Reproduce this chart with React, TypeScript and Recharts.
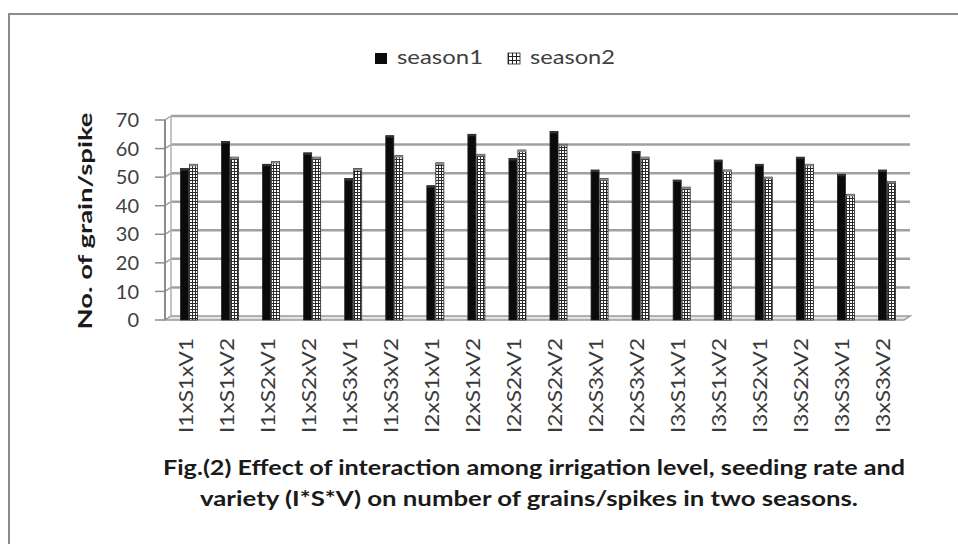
import { Bar, BarChart, CartesianGrid, XAxis, YAxis } from "recharts";

const categories = [
  "I1xS1xV1", "I1xS1xV2", "I1xS2xV1", "I1xS2xV2", "I1xS3xV1", "I1xS3xV2",
  "I2xS1xV1", "I2xS1xV2", "I2xS2xV1", "I2xS2xV2", "I2xS3xV1", "I2xS3xV2",
  "I3xS1xV1", "I3xS1xV2", "I3xS2xV1", "I3xS2xV2", "I3xS3xV1", "I3xS3xV2",
];
const season1 = [53, 62.5, 54.5, 58.5, 49.5, 64.5, 47, 65, 56.5, 66, 52.5, 59, 49, 56, 54.5, 57, 51, 52.5];
const season2 = [54.5, 57, 55.5, 57, 53, 57.5, 55, 58, 59.5, 61.5, 49.5, 57, 46.5, 52.5, 50, 54.5, 44, 48.5];
const yTicks = [0, 10, 20, 30, 40, 50, 60, 70];
const legendLabels = ["season1", "season2"];
const yLabel = "No. of  grain/spike";
const captionLines = [
  "Fig.(2) Effect of interaction among irrigation  level, seeding rate and",
  "variety (I*S*V) on number of grains/spikes in two seasons.",
];

const data = categories.map((name, i) => ({ name, season1: season1[i], season2: season2[i] }));

const FONT = "Lato, 'Open Sans', sans-serif";
const DEPTH_X = 6;
const DEPTH_Y = 4;

// back-wall gridline with the little 3D step from the axis
const GridLine = (props: any) => {
  const { x1, x2, y1, y, height, index } = props;
  const bottom = y + height;
  const isFloor = Math.abs(y1 - bottom) < 0.5;
  const step = height / 7;
  return (
    <g key={`gl-${index}`}>
      {isFloor ? (
        <polygon
          points={`${x1},${y1} ${x2},${y1} ${x2 + DEPTH_X},${y1 - DEPTH_Y} ${x1 + DEPTH_X},${y1 - DEPTH_Y}`}
          fill="#e4e4e4"
          stroke="#9a9a9a"
          strokeWidth={1.5}
        />
      ) : (
        <>
          <line x1={x1 + DEPTH_X} x2={x2 + DEPTH_X} y1={y1 - DEPTH_Y} y2={y1 - DEPTH_Y} stroke="#a0a0a0" strokeWidth={2.5} />
          <line x1={x1} x2={x1 + DEPTH_X} y1={y1} y2={y1 - DEPTH_Y} stroke="#a0a0a0" strokeWidth={1.5} />
          <line x1={x1 + DEPTH_X} x2={x1 + DEPTH_X} y1={y1 - DEPTH_Y} y2={y1 - DEPTH_Y + step} stroke="#b0b0b0" strokeWidth={1.5} />
        </>
      )}
    </g>
  );
};

const makeBar = (fill: string) => (props: any) => {
  const { x, y, width, height } = props;
  if (!height || height <= 0) return null;
  return (
    <g>
      <rect x={x + 3.5} y={y} width={width} height={height} fill={fill} stroke="#222" strokeWidth={0.8} />
      <rect x={x + 3.5} y={y} width={width} height={2} fill={fill === "#0b0b0b" ? "#333" : "#888"} />
    </g>
  );
};

const XTick = ({ x, y, payload }: any) => (
  <text
    transform={`translate(${x + 7},${y + 10}) rotate(-90)`}
    textAnchor="end"
    fontFamily={FONT}
    fontSize={20}
    fill="#3a3a3a"
    textLength={95}
    lengthAdjust="spacingAndGlyphs"
  >
    {payload.value}
  </text>
);

export default function App() {
  return (
    <div style={{ position: "absolute", left: 0, top: 0, width: 958, height: 544, background: "#fff", overflow: "hidden" }}>
      <div
        style={{
          position: "absolute",
          left: 8,
          top: 13,
          width: 980,
          height: 560,
          borderTop: "2px solid #8c8c8c",
          borderLeft: "2px solid #8c8c8c",
        }}
      />
      <BarChart
        width={958}
        height={544}
        data={data}
        margin={{ top: 120, right: 54, left: 105, bottom: 104 }}
        barSize={8}
        barGap={1}
        style={{ position: "absolute", left: 0, top: 0 }}
      >
        <defs>
          <pattern id="s2grid" patternUnits="userSpaceOnUse" width={3} height={3}>
            <rect width={3} height={3} fill="#fff" />
            <path d="M0 0.5H3M0.5 0V3" stroke="#2a2a2a" strokeWidth={1} />
          </pattern>
        </defs>
        <CartesianGrid vertical={false} horizontal={GridLine} />
        <XAxis
          dataKey="name"
          interval={0}
          axisLine={false}
          tickLine={false}
          height={120}
          tick={<XTick />}
        />
        <YAxis
          domain={[0, 70]}
          ticks={yTicks}
          width={60}
          tickSize={10}
          tickMargin={16}
          axisLine={{ stroke: "#8c8c8c", strokeWidth: 2 }}
          tickLine={{ stroke: "#8c8c8c", strokeWidth: 1.5 }}
          tick={{ fill: "#404040", fontSize: 20, fontFamily: FONT }}
        />
        <Bar dataKey="season1" isAnimationActive={false} shape={makeBar("#0b0b0b")} />
        <Bar dataKey="season2" isAnimationActive={false} shape={makeBar("url(#s2grid)")} />
      </BarChart>
      <svg width={958} height={544} style={{ position: "absolute", left: 0, top: 0, pointerEvents: "none" }}>
        <rect x={375} y={53} width={12} height={11} fill="#0b0b0b" />
        <text x={397} y={64} fontFamily={FONT} fontSize={20} fill="#404040" textLength={86} lengthAdjust="spacingAndGlyphs">
          {legendLabels[0]}
        </text>
        <rect x={508} y={53} width={12} height={11} fill="url(#legGrid)" stroke="#222" strokeWidth={0.8} />
        <defs>
          <pattern id="legGrid" patternUnits="userSpaceOnUse" width={4} height={4}>
            <rect width={4} height={4} fill="#fff" />
            <path d="M0 0.5H4M0.5 0V4" stroke="#222" strokeWidth={1} />
          </pattern>
        </defs>
        <text x={530} y={64} fontFamily={FONT} fontSize={20} fill="#404040" textLength={85} lengthAdjust="spacingAndGlyphs">
          {legendLabels[1]}
        </text>
        <text
          transform="translate(92,221) rotate(-90)"
          textAnchor="middle"
          fontFamily={FONT}
          fontWeight="bold"
          fontSize={19}
          fill="#1a1a1a"
          textLength={217}
          lengthAdjust="spacingAndGlyphs"
        >
          {yLabel}
        </text>
        <text x={163} y={475} fontFamily={FONT} fontWeight="bold" fontSize={20} fill="#1a1a1a" textLength={742} lengthAdjust="spacingAndGlyphs">
          {captionLines[0]}
        </text>
        <text x={200} y={506} fontFamily={FONT} fontWeight="bold" fontSize={20} fill="#1a1a1a" textLength={658} lengthAdjust="spacingAndGlyphs">
          {captionLines[1]}
        </text>
      </svg>
    </div>
  );
}
